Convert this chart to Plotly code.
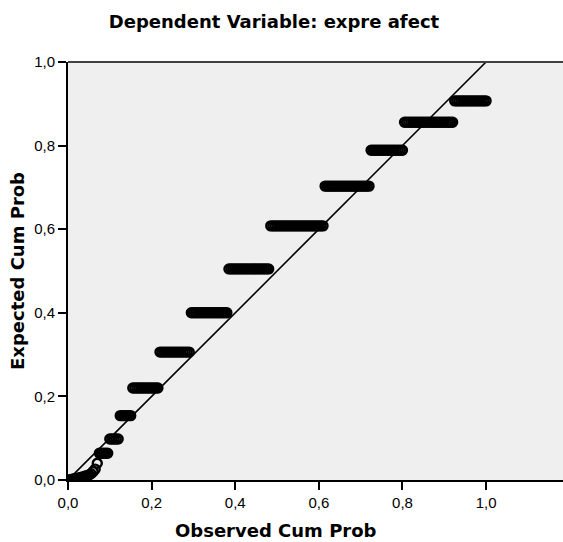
import plotly.graph_objects as go

# Normal P-P plot of regression standardized residuals
n_cases = 200

# Lower tail: expected cumulative probabilities for the first ranked cases
tail_expected = [0.001, 0.002, 0.003, 0.004, 0.005, 0.006, 0.007,
                 0.009, 0.010, 0.012, 0.015, 0.020, 0.026, 0.040]

# Tied residual values: expected cum prob and number of cases sharing it
group_expected = [0.064, 0.098, 0.154, 0.220, 0.306, 0.400, 0.505,
                  0.608, 0.703, 0.789, 0.856, 0.907]
group_count = [5, 5, 6, 13, 15, 18, 20, 26, 22, 16, 24, 16]

x_ticks = [0.0, 0.2, 0.4, 0.6, 0.8, 1.0]
y_ticks = [0.0, 0.2, 0.4, 0.6, 0.8, 1.0]

# Observed cumulative probability = rank / n
expected = list(tail_expected)
for e, c in zip(group_expected, group_count):
    expected += [e] * c
observed = [(i + 1) / n_cases for i in range(len(expected))]

fig = go.Figure()
fig.add_trace(go.Scatter(
    x=[0, 1], y=[0, 1], mode="lines",
    line=dict(color="black", width=1.6),
    hoverinfo="skip", showlegend=False,
))
fig.add_trace(go.Scatter(
    x=observed, y=expected, mode="markers",
    marker=dict(symbol="circle-open", size=9, color="black",
                line=dict(color="black", width=2.4)),
    showlegend=False,
))

tick_family = "Liberation Sans, Arial, sans-serif"
title_family = "DejaVu Sans, Liberation Sans, sans-serif"

fig.update_layout(
    width=563, height=542,
    margin=dict(l=68, r=0, t=62, b=62),
    paper_bgcolor="white",
    plot_bgcolor="#efefef",
    separators=", ",
    font=dict(family=tick_family, color="black", size=14),
    title=dict(
        text="<b>Dependent Variable: expre afect</b>",
        x=274 / 563, xref="container", xanchor="center",
        y=1 - 22 / 542, yref="container", yanchor="middle",
        font=dict(size=18, family=title_family, color="black"),
    ),
    xaxis=dict(
        range=[0, 1.184], tickvals=x_ticks, tickformat=".1f",
        showgrid=False, zeroline=False,
        showline=True, linecolor="black", linewidth=2,
        ticks="outside", ticklen=8, tickwidth=2, tickcolor="black",
        tickfont=dict(size=15),
    ),
    yaxis=dict(
        range=[0, 1], tickvals=y_ticks, tickformat=".1f",
        showgrid=False, zeroline=False,
        showline=True, linecolor="black", linewidth=2,
        ticks="outside", ticklen=8, tickwidth=2, tickcolor="black",
        tickfont=dict(size=15),
        title=dict(text="<b>Expected Cum Prob</b>",
                   font=dict(size=18, family=title_family), standoff=5),
    ),
    annotations=[dict(
        text="<b>Observed Cum Prob</b>", showarrow=False,
        xref="paper", yref="paper",
        x=(276 - 68) / 495, y=-50 / 418,
        xanchor="center", yanchor="middle",
        font=dict(size=18, family=title_family, color="black"),
    )],
    shapes=[dict(type="line", xref="paper", yref="paper",
                 x0=0, x1=1, y0=1, y1=1,
                 line=dict(color="#404040", width=2))],
)

fig.write_html("out.html")
